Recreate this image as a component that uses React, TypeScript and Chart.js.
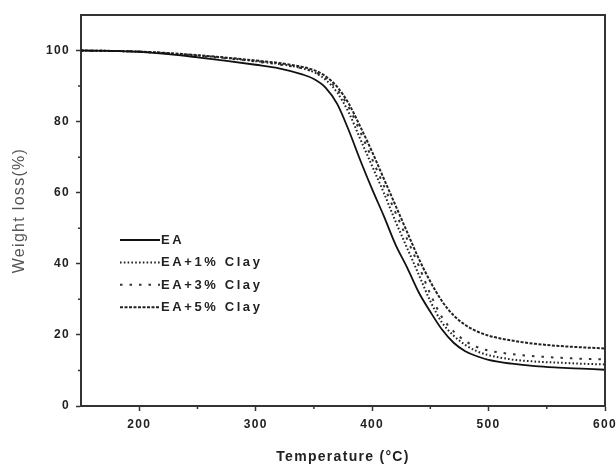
import React, { useEffect, useRef } from "react";
import { Chart, registerables } from "chart.js";

Chart.register(...registerables);

// ---- data ----
const temperatures = [150, 175, 200, 225, 250, 275, 300, 320, 340, 350, 360, 370, 380, 390, 400, 410, 420, 430, 440, 450, 460, 470, 480, 490, 500, 520, 540, 560, 580, 600];
const eaValues = [100, 99.9, 99.6, 99.0, 98.1, 97.1, 96.0, 95.0, 93.3, 92.0, 89.6, 85.0, 77.5, 69.0, 61.0, 53.5, 45.5, 39.0, 32.0, 26.5, 21.5, 17.8, 15.4, 14.0, 13.0, 11.9, 11.2, 10.8, 10.5, 10.2];
const ea1Values = [100, 99.9, 99.7, 99.2, 98.6, 97.9, 97.0, 96.2, 95.0, 93.9, 91.8, 88.2, 82.5, 75.0, 67.5, 60.0, 52.0, 44.5, 37.0, 29.5, 23.5, 19.8, 17.2, 15.4, 14.3, 13.1, 12.5, 12.2, 11.9, 11.7];
const ea3Values = [100, 99.9, 99.7, 99.2, 98.5, 97.8, 96.9, 96.1, 95.0, 94.0, 92.3, 89.0, 84.0, 77.0, 69.5, 62.0, 54.5, 47.0, 39.5, 31.5, 25.0, 21.0, 18.3, 16.6, 15.6, 14.6, 14.0, 13.6, 13.3, 13.1];
const ea5Values = [100, 99.9, 99.7, 99.3, 98.7, 98.0, 97.2, 96.5, 95.4, 94.5, 92.8, 89.8, 85.0, 78.5, 71.5, 64.0, 56.5, 49.0, 41.5, 35.0, 29.5, 25.5, 22.8, 21.0, 19.8, 18.4, 17.5, 16.9, 16.5, 16.2];

const seriesLabels = ["EA", "EA+1% Clay", "EA+3% Clay", "EA+5% Clay"];
const xTickValues = [200, 300, 400, 500, 600];
const xMinorTicks = [250, 350, 450, 550];
const yTickValues = [0, 20, 40, 60, 80, 100];
const yMinorTicks = [10, 30, 50, 70, 90];

const FONT = "Arial, 'Liberation Sans', sans-serif";

export default function App() {
  const ref = useRef<HTMLCanvasElement>(null);

  useEffect(() => {
    document.body.style.margin = "0";
    const canvas = ref.current!;
    const pts = (vals: number[]) => temperatures.map((t, i) => ({ x: t, y: vals[i] }));

    const framePlugin = {
      id: "frame",
      beforeDraw(chart: any) {
        chart.ctx.letterSpacing = "1.3px";
      },
      afterDraw(chart: any) {
        const { ctx, chartArea } = chart;
        const xs = chart.scales.x;
        const ys = chart.scales.y;
        ctx.save();
        ctx.letterSpacing = "0px";
        // top & right frame
        ctx.strokeStyle = "#333";
        ctx.lineWidth = 2;
        ctx.beginPath();
        ctx.moveTo(chartArea.left, chartArea.top);
        ctx.lineTo(chartArea.right, chartArea.top);
        ctx.lineTo(chartArea.right, chartArea.bottom);
        ctx.stroke();
        // minor ticks
        ctx.lineWidth = 1.5;
        ctx.beginPath();
        xMinorTicks.forEach((v) => {
          const px = xs.getPixelForValue(v);
          ctx.moveTo(px, chartArea.bottom);
          ctx.lineTo(px, chartArea.bottom + 3);
        });
        yMinorTicks.forEach((v) => {
          const py = ys.getPixelForValue(v);
          ctx.moveTo(chartArea.left - 3, py);
          ctx.lineTo(chartArea.left, py);
        });
        ctx.stroke();
        // legend
        ctx.letterSpacing = "2.6px";
        ctx.font = `bold 13px ${FONT}`;
        ctx.textBaseline = "middle";
        ctx.fillStyle = "#222";
        const lx0 = chartArea.left + 39;
        const lx1 = chartArea.left + 79;
        const ly0 = chartArea.top + 225;
        chart.data.datasets.forEach((ds: any, i: number) => {
          const y = ly0 + i * 22.4;
          ctx.beginPath();
          ctx.setLineDash(ds.borderDash || []);
          ctx.lineWidth = ds.borderWidth;
          ctx.strokeStyle = ds.borderColor;
          ctx.moveTo(lx0, y);
          ctx.lineTo(lx1, y);
          ctx.stroke();
          ctx.setLineDash([]);
          ctx.fillText(ds.label, lx1 + 1, y + 0.5);
        });
        ctx.restore();
      },
    };

    const chart = new Chart(canvas, {
      type: "line",
      data: {
        datasets: [
          { label: seriesLabels[0], data: pts(eaValues), borderColor: "#111", borderWidth: 1.8, borderDash: [] },
          { label: seriesLabels[1], data: pts(ea1Values), borderColor: "#222", borderWidth: 2, borderDash: [1.6, 2.2] },
          { label: seriesLabels[2], data: pts(ea3Values), borderColor: "#333", borderWidth: 2, borderDash: [2.5, 7] },
          { label: seriesLabels[3], data: pts(ea5Values), borderColor: "#222", borderWidth: 2, borderDash: [3, 1.5] },
        ],
      },
      options: {
        animation: false,
        responsive: true,
        maintainAspectRatio: false,
        parsing: false as any,
        layout: { padding: { top: 15, right: 11, left: 0, bottom: 0 } },
        elements: {
          point: { radius: 0 },
          line: { cubicInterpolationMode: "monotone", fill: false },
        },
        plugins: { legend: { display: false }, tooltip: { enabled: false } },
        scales: {
          x: {
            type: "linear",
            min: 150,
            max: 600,
            afterBuildTicks: (s: any) => {
              s.ticks = xTickValues.map((v) => ({ value: v }));
            },
            afterFit: (s: any) => {
              s.height = 58;
              s.paddingLeft = 0;
              s.paddingRight = 0;
            },
            grid: { drawOnChartArea: false, drawTicks: true, tickLength: 5, tickWidth: 1.5, tickColor: "#333" },
            border: { color: "#333", width: 2 },
            ticks: { color: "#222", font: { family: FONT, size: 12, weight: "bold" }, padding: 6, maxRotation: 0, autoSkip: false },
            title: {
              display: true,
              text: "Temperature (°C)",
              color: "#222",
              font: { family: FONT, size: 14, weight: "bold", lineHeight: 1 },
              padding: 0,
            },
          },
          y: {
            type: "linear",
            min: 0,
            max: 110,
            afterBuildTicks: (s: any) => {
              s.ticks = yTickValues.map((v) => ({ value: v }));
            },
            afterFit: (s: any) => {
              s.width = 81;
              s.paddingTop = 0;
              s.paddingBottom = 0;
            },
            grid: { drawOnChartArea: false, drawTicks: true, tickLength: 5, tickWidth: 1.5, tickColor: "#333" },
            border: { color: "#333", width: 2 },
            ticks: { color: "#222", font: { family: FONT, size: 12, weight: "bold" }, padding: 6 },
            title: {
              display: true,
              text: "Weight loss(%)",
              color: "#555",
              font: { family: FONT, size: 16, weight: "normal", lineHeight: 1 },
              padding: { top: 12, bottom: 0 },
            },
          },
        },
      },
      plugins: [framePlugin],
    } as any);

    return () => chart.destroy();
  }, []);

  return (
    <div style={{ width: 616, height: 464, position: "relative" }}>
      <canvas ref={ref} style={{ display: "block" }} />
    </div>
  );
}
